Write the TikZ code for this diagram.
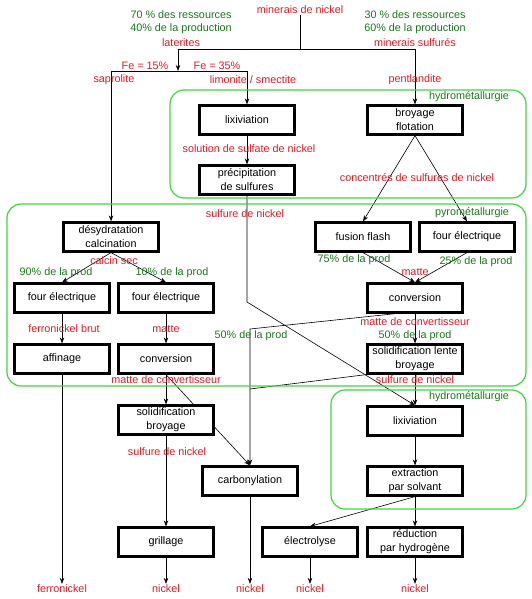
\documentclass[tikz,border=0pt]{standalone}
\usepackage{fontspec}
\setmainfont{Liberation Sans}
\usetikzlibrary{arrows.meta, backgrounds}
\definecolor{labelred}{RGB}{222,28,38}
\definecolor{labelgreen}{RGB}{28,118,28}
\definecolor{zonegreen}{RGB}{64,214,64}

\begin{document}
\begin{tikzpicture}[
        x=1pt, y=-1pt,
        font=\fontsize{10.8}{14}\selectfont,
        proc/.style={draw, line width=2.2pt, fill=white, align=center, minimum width=95pt, minimum height=29pt, inner sep=1pt},
        redlbl/.style={text=labelred, inner sep=1pt, align=center},
        greenlbl/.style={text=labelgreen, inner sep=1pt},
        zone/.style={draw=zonegreen, line width=1.2pt, rounded corners=14pt},
        flow/.style={line width=0.6pt},
        >={Stealth[length=6pt, width=4.5pt]},
    ]
    \useasboundingbox (0, 0) rectangle (532, 599);

    % zones
    \draw[zone] (170, 90) rectangle (526, 198);
    \draw[zone] (7, 204) rectangle (526, 386);
    \draw[zone] (331, 390) rectangle (526, 509);
    \node[greenlbl] (hydroA) at (469, 97)  {hydrométallurgie};
    \node[greenlbl] (pyro)   at (472, 213) {pyrométallurgie};
    \node[greenlbl] (hydroB) at (469, 397) {hydrométallurgie};

    % ores
    \node[redlbl]   (minerai) at (300, 10) {minerais de nickel};
    \node[greenlbl] (res70)   at (181, 15) {70 \% des ressources};
    \node[greenlbl] (prod40)  at (181, 29) {40\% de la production};
    \node[redlbl]   (laterit) at (181, 43) {laterites};
    \node[greenlbl] (res30)   at (415, 15) {30 \% des ressources};
    \node[greenlbl] (prod60)  at (415, 29) {60\% de la production};
    \node[redlbl]   (sulfmin) at (415, 43) {minerais sulfurés};
    \node[redlbl]   (fe15)    at (145, 66) {Fe = 15\%};
    \node[redlbl]   (fe35)    at (217, 66) {Fe = 35\%};
    \node[redlbl]   (saprol)  at (114, 80) {saprolite};
    \node[redlbl]   (limon)   at (253, 80) {limonite / smectite};
    \node[redlbl]   (pentl)   at (415, 80) {pentlandite};
    \coordinate (split) at (300, 49);
    \coordinate (fe)    at (178, 71);

    % process steps
    \node[proc] (lixiA)    at (247, 120) {lixiviation};
    \node[proc] (broyage)  at (415, 120) {broyage\\flotation};
    \node[proc] (precip)   at (247, 180) {précipitation\\de sulfures};
    \node[proc] (desyd)    at (111, 237) {désydratation\\calcination};
    \node[proc] (fusion)   at (363, 237) {fusion flash};
    \node[proc] (fourR)    at (467, 237) {four électrique};
    \node[proc] (fourL)    at (62, 298)  {four électrique};
    \node[proc] (fourM)    at (166, 298) {four électrique};
    \node[proc] (convR)    at (415, 298) {conversion};
    \node[proc] (affin)    at (62, 359)  {affinage};
    \node[proc] (convL)    at (166, 359) {conversion};
    \node[proc] (solidL)   at (415, 359) {solidification lente\\broyage};
    \node[proc] (solidB)   at (166, 420) {solidification\\broyage};
    \node[proc] (lixiB)    at (415, 421) {lixiviation};
    \node[proc] (carbo)    at (250, 481) {carbonylation};
    \node[proc] (extract)  at (415, 481) {extraction\\par solvant};
    \node[proc] (grillage) at (166, 542) {grillage};
    \node[proc] (electro)  at (310, 542) {électrolyse};
    \node[proc] (reduc)    at (415, 542) {réduction\\par hydrogène};

    % flow labels
    \node[redlbl]   (solsulf)  at (249, 149) {solution de sulfate de nickel};
    \node[redlbl]   (sulfA)    at (245, 214) {sulfure de nickel};
    \node[redlbl]   (concent)  at (417, 178) {concentrés de sulfures de nickel};
    \node[redlbl]   (calcin)   at (114, 261) {calcin sec};
    \node[greenlbl] (prod90)   at (56, 273)  {90\% de la prod};
    \node[greenlbl] (prod10)   at (172, 273) {10\% de la prod};
    \node[greenlbl] (prod75)   at (354, 260) {75\% de la prod};
    \node[redlbl]   (matteR)   at (415, 272) {matte};
    \node[greenlbl] (prod25)   at (476, 262) {25\% de la prod};
    \node[redlbl]   (fenibrut) at (64, 329)  {ferronickel brut};
    \node[redlbl]   (matteL)   at (166, 329) {matte};
    \node[greenlbl] (prod50L)  at (251, 336) {50\% de la prod};
    \node[redlbl]   (mconvR)   at (415, 322) {matte de convertisseur};
    \node[greenlbl] (prod50R)  at (415, 336) {50\% de la prod};
    \node[redlbl]   (mconvL)   at (166, 380) {matte de convertisseur};
    \node[redlbl]   (sulfB)    at (415, 380) {sulfure de nickel};
    \node[redlbl]   (sulfC)    at (167, 452) {sulfure de nickel};
    \coordinate (bendA) at (247, 302);
    \coordinate (bendB) at (250, 329);
    \coordinate (joinB) at (250, 389);

    % products
    \node[redlbl] (endFe) at (62, 589)  {ferronickel};
    \node[redlbl] (endN1) at (166, 589) {nickel};
    \node[redlbl] (endN2) at (250, 589) {nickel};
    \node[redlbl] (endN3) at (310, 589) {nickel};
    \node[redlbl] (endN4) at (415, 589) {nickel};

    \begin{scope}[on background layer]
        \draw[flow] (minerai) -- (split);
        \draw[flow, ->] (split) -| (fe);
        \draw[flow, ->] (split) -| (broyage);
        \draw[flow, ->] (fe) -| (desyd);
        \draw[flow, ->] (fe) -| (lixiA);
        \draw[flow, ->] (lixiA) -- (precip);
        \draw[flow, ->] (precip) -- (bendA) -- (lixiB.north);
        \draw[flow, ->] (broyage.south) -- (fusion.north);
        \draw[flow, ->] (broyage.south) -- (fourR.north);
        \draw[flow, ->] (fusion.south) -- (convR.north);
        \draw[flow, ->] (fourR.south) -- (convR.north);
        \draw[flow, ->] (convR) -- (solidL);
        \draw[flow, ->] ([xshift=-19pt]convR.south) -- (bendB) -- (carbo.north);
        \draw[flow] (solidL.south west) -- (joinB);
        \draw[flow, ->] (solidL) -- (lixiB);
        \draw[flow, ->] (desyd.south) -- (fourL.north);
        \draw[flow, ->] (desyd.south) -- (fourM.north);
        \draw[flow, ->] (fourL) -- (affin);
        \draw[flow, ->] (fourM) -- (convL);
        \draw[flow, ->] (affin) -- (endFe);
        \draw[flow, ->] (convL) -- (solidB);
        \draw[flow, ->] (convL.south) -- (carbo.north);
        \draw[flow, ->] (solidB) -- (grillage);
        \draw[flow, ->] (grillage) -- (endN1);
        \draw[flow, ->] (carbo) -- (endN2);
        \draw[flow, ->] (lixiB) -- (extract);
        \draw[flow, ->] (extract) -- (reduc);
        \draw[flow, ->] (extract.south) -- (electro.north);
        \draw[flow, ->] (electro) -- (endN3);
        \draw[flow, ->] (reduc) -- (endN4);
    \end{scope}
\end{tikzpicture}
\end{document}
